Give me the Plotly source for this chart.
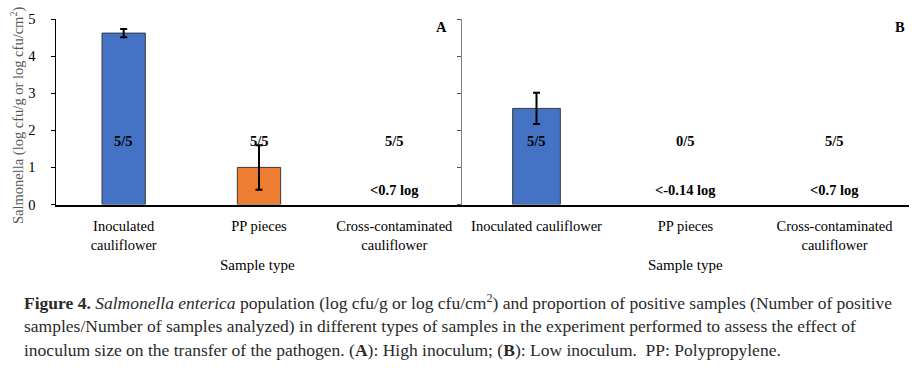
import plotly.graph_objects as go

# ---- data ----
categories_a = ["Inoculated<br>cauliflower", "PP pieces", "Cross-contaminated<br>cauliflower"]
categories_b = ["Inoculated cauliflower", "PP pieces", "Cross-contaminated<br>cauliflower"]
values_a = [4.62, 1.00, None]
errors_a = [0.11, 0.60, None]
values_b = [2.59, None, None]
errors_b = [0.42, None, None]
colors_a = ["#4472C4", "#ED7D31", "#4472C4"]
colors_b = ["#4472C4", "#4472C4", "#4472C4"]
positives_a = ["5/5", "5/5", "5/5"]
positives_b = ["5/5", "0/5", "5/5"]
limits_a = ["", "", "<0.7 log"]
limits_b = ["", "<-0.14 log", "<0.7 log"]
y_ticks = [0, 1, 2, 3, 4, 5]

W, H = 920, 373
SERIF = "Liberation Serif"

def px(x):
    return x / W

def py(y):
    return 1 - y / H

fig = go.Figure()
fig.add_trace(go.Bar(
    x=categories_a, y=values_a, xaxis="x", yaxis="y",
    marker=dict(color=colors_a, line=dict(color="#3a3a3a", width=1)),
    error_y=dict(type="data", array=errors_a, color="black", thickness=2, width=3.5),
    showlegend=False, hoverinfo="skip"))
fig.add_trace(go.Bar(
    x=categories_b, y=values_b, xaxis="x2", yaxis="y2",
    marker=dict(color=colors_b, line=dict(color="#3a3a3a", width=1)),
    error_y=dict(type="data", array=errors_b, color="black", thickness=2, width=3.5),
    showlegend=False, hoverinfo="skip"))

ann = []
LABEL_Y = 1.72
LIMIT_Y = 0.40
lab_font = dict(family=SERIF, size=14.5, color="black")
for xa, ya, cats, pos, lim in (("x", "y", categories_a, positives_a, limits_a),
                               ("x2", "y2", categories_b, positives_b, limits_b)):
    for c, p, l in zip(cats, pos, lim):
        ann.append(dict(x=c, y=LABEL_Y, xref=xa, yref=ya, text="<b>" + p + "</b>",
                        showarrow=False, font=lab_font))
        if l:
            ann.append(dict(x=c, y=LIMIT_Y, xref=xa, yref=ya, text="<b>" + l + "</b>",
                            showarrow=False, font=lab_font))

# panel letters
ann.append(dict(x=px(441), y=py(27), xref="paper", yref="paper", text="<b>A</b>",
                xanchor="center", yanchor="middle", showarrow=False, font=lab_font))
ann.append(dict(x=px(900), y=py(27), xref="paper", yref="paper", text="<b>B</b>",
                xanchor="center", yanchor="middle", showarrow=False, font=lab_font))
# x titles
for xc in (257, 685):
    ann.append(dict(x=px(xc), y=py(265), xref="paper", yref="paper", text="Sample type",
                    xanchor="center", yanchor="middle", showarrow=False,
                    font=dict(family=SERIF, size=15, color="black")))
# y title
ann.append(dict(x=px(17), y=py(116), xref="paper", yref="paper",
                text="Salmonella (log cfu/g or log cfu/cm<sup>2</sup>)", textangle=-90,
                xanchor="center", yanchor="middle",
                showarrow=False, font=dict(family=SERIF, size=14.5, color="#595959")))

# caption
caption = [
    "<b>Figure 4.</b> <i>Salmonella enterica</i> population (log cfu/g or log cfu/cm<sup>2</sup>) and proportion of positive samples (Number of positive",
    "samples/Number of samples analyzed) in different types of samples in the experiment performed to assess the effect of",
    "inoculum size on the transfer of the pathogen. (<b>A</b>): High inoculum; (<b>B</b>): Low inoculum.  PP: Polypropylene.",
]
for i, line in enumerate(caption):
    ann.append(dict(x=px(22), y=py(302 + 24 * i), xref="paper", yref="paper", text=line,
                    xanchor="left", yanchor="middle", showarrow=False, align="left",
                    font=dict(family=SERIF, size=17.5, color="#2a2a2a")))

x_l0, x_l1, x_r1 = 56, 462, 909
y_top, y_bot = 19, 204.5

axis_common = dict(showgrid=False, zeroline=False, fixedrange=True, automargin=False)
tick_font = dict(family=SERIF, size=14.5, color="black")
fig.update_layout(
    width=W, height=H,
    margin=dict(l=0, r=0, t=0, b=0, pad=0, autoexpand=False),
    paper_bgcolor="white", plot_bgcolor="white",
    bargap=0.68,
    font=dict(family=SERIF, size=13, color="black"),
    xaxis=dict(domain=[px(x_l0), px(x_l1)], anchor="y", showline=True, linecolor="black",
               linewidth=2, ticks="", tickfont=tick_font,
               ticklabelstandoff=7, **axis_common),
    yaxis=dict(domain=[py(y_bot), py(y_top)], anchor="x", range=[0, 5], tickvals=y_ticks,
               showline=True, linecolor="black", linewidth=1.5, ticks="outside", ticklen=4,
               tickcolor="black", tickwidth=1, ticklabelstandoff=12,
               tickfont=tick_font, **axis_common),
    xaxis2=dict(domain=[px(x_l1), px(x_r1)], anchor="y2", showline=True, linecolor="black",
                linewidth=2, ticks="", tickfont=tick_font,
                ticklabelstandoff=7, **axis_common),
    yaxis2=dict(domain=[py(y_bot), py(y_top)], anchor="x2", range=[0, 5], tickvals=y_ticks,
                showline=True, linecolor="#7f7f7f", linewidth=1, ticks="outside", ticklen=4,
                tickcolor="#555555", showticklabels=False, **axis_common),
    annotations=ann,
)

fig.write_html("out.html",
               config={"displayModeBar": False, "staticPlot": True},
               post_script="document.body.style.margin='0px';document.body.style.overflow='hidden';")
